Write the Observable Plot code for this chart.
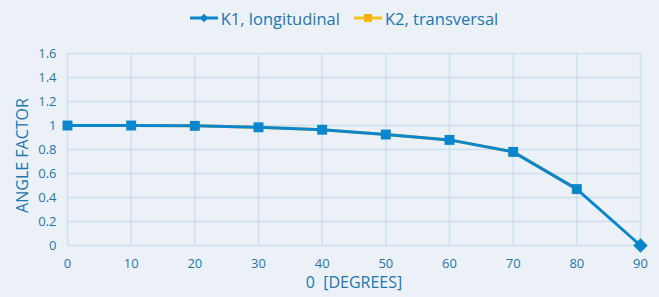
<!DOCTYPE html>
<html><head><meta charset="utf-8">
<script src="https://cdn.jsdelivr.net/npm/d3@7"></script>
<script src="https://cdn.jsdelivr.net/npm/@observablehq/plot@0.6"></script>
<style>
html,body{margin:0;padding:0;background:#ecf1f8;}
body{width:659px;height:297px;overflow:hidden;font-family:"Open Sans",sans-serif;color:#1f76ad;}
#legend{height:36px;display:flex;justify-content:center;align-items:center;gap:14px;font-size:16.5px;padding-left:29px;box-sizing:border-box;}
#legend span{display:flex;align-items:center;gap:3px;}
</style></head><body>
<div id="legend"></div>
<div id="chart"></div>
<script>
const degrees = [0, 10, 20, 30, 40, 50, 60, 70, 80, 90];
const k1 = [1.0, 1.0, 0.997, 0.985, 0.965, 0.925, 0.88, 0.78, 0.47, 0];
const k2 = [1.0, 1.0, 0.997, 0.985, 0.965, 0.925, 0.88, 0.78, 0.47];
const seriesNames = ["K1, longitudinal", "K2, transversal"];
const xTicks = [0, 10, 20, 30, 40, 50, 60, 70, 80, 90];
const yTicks = [0, 0.2, 0.4, 0.6, 0.8, 1, 1.2, 1.4, 1.6];

const blue = "#0a86cf", yellow = "#f7c21a", orange = "#f9b10f", txt = "#1f76ad", grid = "#cde0ef";

const d1 = degrees.map((d, i) => ({x: d, y: k1[i]}));
const d2 = k2.map((v, i) => ({x: degrees[i], y: v}));

// legend
const lg = document.getElementById("legend");
lg.innerHTML = `<span><svg width="28" height="12"><line x1="0" y1="6" x2="28" y2="6" stroke="${blue}" stroke-width="3"/><rect x="11" y="3" width="6" height="6" fill="${blue}" transform="rotate(45 14 6)"/></svg>${seriesNames[0]}</span>
<span><svg width="28" height="12"><line x1="0" y1="6" x2="28" y2="6" stroke="${yellow}" stroke-width="3"/><rect x="10" y="2" width="8" height="8" fill="${orange}"/></svg>${seriesNames[1]}</span>`;

const chart = Plot.plot({
  width: 659, height: 261,
  marginLeft: 67, marginRight: 19, marginTop: 17, marginBottom: 52,
  style: {background: "transparent", fontFamily: "Open Sans, sans-serif", fontSize: "13px", color: txt, overflow: "visible"},
  x: {domain: [0, 90], ticks: xTicks, label: null},
  y: {domain: [0, 1.6], ticks: yTicks, label: null, tickFormat: d => String(+d.toFixed(1))},
  marks: [
    Plot.gridX(xTicks, {stroke: grid, strokeOpacity: 1, strokeWidth: 1.5}),
    Plot.gridY(yTicks, {stroke: grid, strokeOpacity: 1, strokeWidth: 1.5}),
    Plot.axisX({ticks: xTicks, tickSize: 0, tickPadding: 13, fill: txt, fontSize: 13, label: null}),
    Plot.axisY({ticks: yTicks, tickSize: 0, tickPadding: 11, fill: txt, fontSize: 13, label: null, tickFormat: d => String(+d.toFixed(1))}),
    Plot.text(["0  [DEGREES]"], {frameAnchor: "bottom", dy: 42, fill: txt, fontSize: 16, text: d => d}),
    Plot.text(["ANGLE FACTOR"], {frameAnchor: "left", textAnchor: "middle", dx: -45, dy: 6, rotate: -90, fill: txt, fontSize: 16, text: d => d}),
    Plot.line(d2, {x: "x", y: "y", stroke: yellow, strokeWidth: 3}),
    Plot.line(d1, {x: "x", y: "y", stroke: blue, strokeWidth: 3}),
    Plot.dot(d2, {x: "x", y: "y", symbol: "square", r: 5.6, fill: blue, stroke: null}),
    Plot.dot(d1.slice(-1), {x: "x", y: "y", symbol: "diamond2", r: 6.5, fill: blue, stroke: null})
  ]
});
document.getElementById("chart").appendChild(chart);
</script>
</body></html>
